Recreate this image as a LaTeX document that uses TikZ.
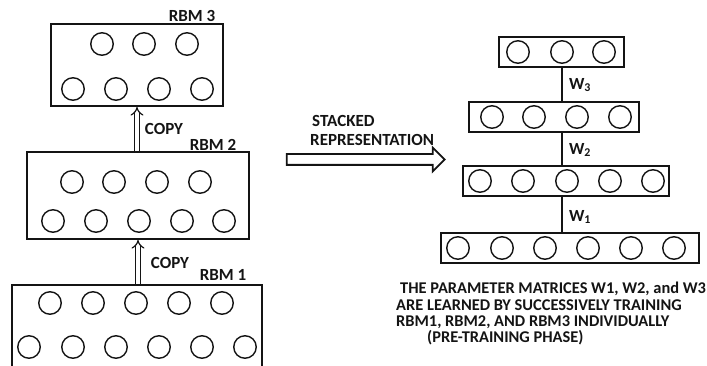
\documentclass[tikz,border=0pt]{standalone}
\usepackage{fontspec}
\setmainfont{Carlito}
\usepackage{tikz}
\usetikzlibrary{arrows.meta, shapes.arrows}
\definecolor{mydark}{RGB}{20,20,20}
\tikzset{
  rbm/.style={rectangle, draw=mydark, line width=1.8pt, inner sep=0pt},
  unit/.style={circle, draw=mydark, line width=1.4pt,
    minimum size=22.5pt, inner sep=0pt},
  lbl/.style={font=\fontsize{17}{19}\selectfont\bfseries, color=mydark, inner sep=0pt},
  notetext/.style={font=\fontsize{16.4}{16.3}\selectfont\bfseries,
    color=mydark, inner sep=0pt, align=left},
  copyarrow/.style={double=white, draw=mydark, double distance=3.2pt,
    line width=1.2pt, -{Implies}},
  stackarrow/.style={single arrow, draw=mydark, line width=1.8pt,
    inner sep=4.5pt, single arrow head extend=6.5pt},
  wline/.style={draw=mydark, line width=2.2pt}
}

\begin{document}
\begin{tikzpicture}[x=1pt, y=-1pt]
  \path[use as bounding box, clip] (0,0) rectangle (707,366);

  % ── RBM 3 ─────────────────────────────────────────────────────────
  \node[rbm, minimum width=172pt, minimum height=82pt] (rbm3) at (137,65) {};
  \foreach \x [count=\i] in {102,144,187} \node[unit] (rbm3h\i) at (\x,44) {};
  \foreach \x [count=\i] in {73,116,159,202} \node[unit] (rbm3v\i) at (\x,89) {};
  \node[lbl] (rbm3lbl) at (192,16) {RBM 3};

  % ── RBM 2 ─────────────────────────────────────────────────────────
  \node[rbm, minimum width=222pt, minimum height=87pt] (rbm2) at (138,195.5) {};
  \foreach \x [count=\i] in {72,114,157,200} \node[unit] (rbm2h\i) at (\x,182) {};
  \foreach \x [count=\i] in {53,96,139,182,224} \node[unit] (rbm2v\i) at (\x,221) {};
  \node[lbl] (rbm2lbl) at (213,145) {RBM 2};

  % ── RBM 1 (runs off the bottom) ───────────────────────────────────
  \node[rbm, minimum width=250pt, minimum height=130pt] (rbm1) at (137,350) {};
  \foreach \x [count=\i] in {50,93,136,179,222} \node[unit] (rbm1h\i) at (\x,303) {};
  \foreach \x [count=\i] in {29,73,116,159,202,245} \node[unit] (rbm1v\i) at (\x,347) {};
  \node[lbl] (rbm1lbl) at (223,275) {RBM 1};

  % ── COPY arrows ───────────────────────────────────────────────────
  \draw[copyarrow] (rbm2.north -| rbm3.south) -- (rbm3.south);
  \node[lbl] (copy1) at (164,129) {COPY};
  \draw[copyarrow] (rbm1.north -| rbm2.south) -- (rbm2.south);
  \node[lbl] (copy2) at (170,263) {COPY};

  % ── Stacked representation ────────────────────────────────────────
  \node[stackarrow, minimum height=158pt] (stackarr) at (363,159.5) {};
  \node[lbl, align=left, anchor=west] (stacklbl) at (310,130.5)
    {\hspace*{2pt}STACKED\\REPRESENTATION};

  % ── Stacked network ───────────────────────────────────────────────
  \node[rbm, minimum width=125pt, minimum height=30pt] (stk3) at (561.5,52) {};
  \foreach \x [count=\i] in {518,562,604} \node[unit] (stk3u\i) at (\x,52) {};
  \node[rbm, minimum width=170pt, minimum height=30pt] (stk2) at (554,117) {};
  \foreach \x [count=\i] in {492,534,577,620} \node[unit] (stk2u\i) at (\x,117) {};
  \node[rbm, minimum width=206pt, minimum height=30pt] (stk1) at (566,181) {};
  \foreach \x [count=\i] in {480,523,567,610,653} \node[unit] (stk1u\i) at (\x,181) {};
  \node[rbm, minimum width=258pt, minimum height=30pt] (stk0) at (570,248) {};
  \foreach \x [count=\i] in {458,502,545,588,631,674} \node[unit] (stk0u\i) at (\x,248) {};

  % weights
  \draw[wline] (stk3u2 |- stk3.south) -- (stk3u2 |- stk2.north);
  \draw[wline] (stk3u2 |- stk2.south) -- (stk3u2 |- stk1.north);
  \draw[wline] (stk3u2 |- stk1.south) -- (stk3u2 |- stk0.north);
  \node[lbl] (w3) at (580,85) {W\textsubscript{3}};
  \node[lbl] (w2) at (580,150) {W\textsubscript{2}};
  \node[lbl] (w1) at (580,217) {W\textsubscript{1}};

  % ── Note ──────────────────────────────────────────────────────────
  \node[notetext, anchor=north west] (note) at (396,282)
    {\hspace*{4pt}THE PARAMETER MATRICES W1, W2, and W3\\
     ARE LEARNED BY SUCCESSIVELY TRAINING\\
     RBM1, RBM2, AND RBM3 INDIVIDUALLY\\
     \hspace*{31pt}(PRE-TRAINING PHASE)};
\end{tikzpicture}
\end{document}
